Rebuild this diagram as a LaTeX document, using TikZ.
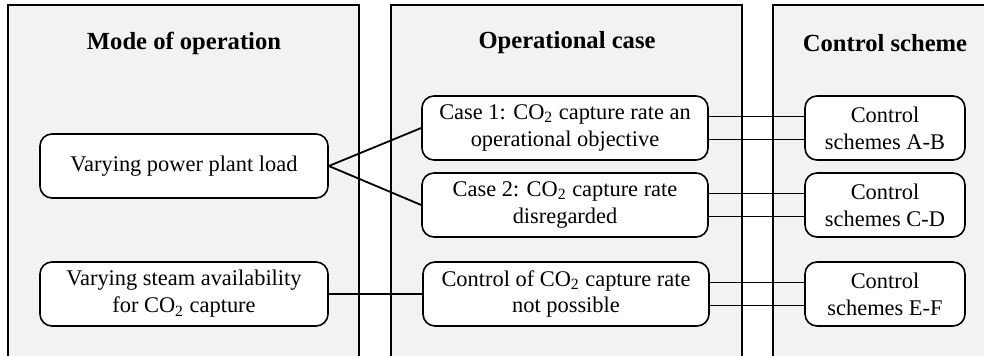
\documentclass[tikz,border=0pt]{standalone}
\usepackage{fontspec}
\setmainfont{Liberation Serif}
\usetikzlibrary{positioning}

\tikzset{
  panel/.style={draw, line width=0.9pt, fill=gray!10},
  title/.style={font=\fontsize{12.3}{14}\selectfont\bfseries},
  modebox/.style={draw, fill=white, line width=0.8pt, rounded corners=6pt,
    minimum width=144pt, minimum height=32pt, align=center,
    font=\fontsize{11.2}{13.4}\selectfont},
  casebox/.style={modebox, minimum width=143pt},
  schemebox/.style={modebox, minimum width=80pt},
  link/.style={line width=0.9pt}
}

\begin{document}
\begin{tikzpicture}[x=0.5pt, y=-0.5pt]
%\draw [help lines, step=10](0,0) grid (984,356);
\useasboundingbox (0,0) rectangle (984,356);
\clip (0,0) rectangle (984,356);

% the three columns
\draw [panel] (8,5) rectangle (359,370);
\draw [panel] (391,5) rectangle (742,370);
\draw [panel] (773,5) rectangle (1000,370);

\node [title] (modetitle) at (184,43) {Mode of operation};
\node [title] (casetitle) at (567,43) {Operational case};
\node [title] (schemetitle) at (885,43) {Control scheme};

% mode of operation
\node [modebox] (load) at (184,166) {Varying power plant load};
\node [modebox] (steam) at (184,294) {Varying steam availability\\for CO\textsubscript{2} capture};

% operational case
\node [casebox] (case1) at (565,128) {Case 1: CO\textsubscript{2} capture rate an\\operational objective};
\node [casebox] (case2) at (565,205) {Case 2: CO\textsubscript{2} capture rate\\disregarded};
\node [casebox] (nocontrol) at (566,294) {Control of CO\textsubscript{2} capture rate\\not possible};

% control scheme
\node [schemebox] (schemeAB) at (885,128) {Control\\schemes A-B};
\node [schemebox] (schemeCD) at (885,205) {Control\\schemes C-D};
\node [schemebox] (schemeEF) at (885,294) {Control\\schemes E-F};

\draw [link] (load.east) -- (case1.west);
\draw [link] (load.east) -- (case2.west);
\draw [link] (steam.east) -- (nocontrol.west);

\draw [link] ([yshift=5.75pt]case1.east) -- ([yshift=5.75pt]schemeAB.west);
\draw [link] ([yshift=-5.75pt]case1.east) -- ([yshift=-5.75pt]schemeAB.west);
\draw [link] ([yshift=5.75pt]case2.east) -- ([yshift=5.75pt]schemeCD.west);
\draw [link] ([yshift=-5.75pt]case2.east) -- ([yshift=-5.75pt]schemeCD.west);
\draw [link] ([yshift=5.75pt]nocontrol.east) -- ([yshift=5.75pt]schemeEF.west);
\draw [link] ([yshift=-5.75pt]nocontrol.east) -- ([yshift=-5.75pt]schemeEF.west);
\end{tikzpicture}
\end{document}
